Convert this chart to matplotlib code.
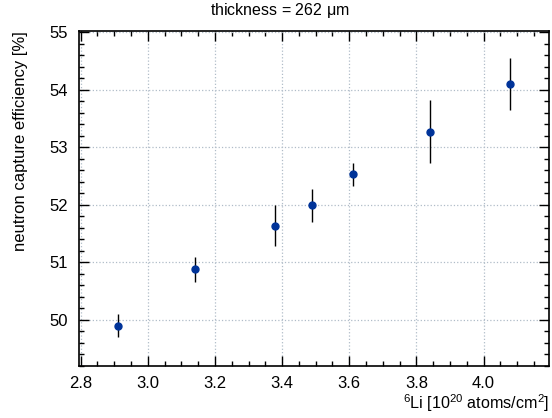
import matplotlib
matplotlib.use("Agg")
import matplotlib.pyplot as plt
from matplotlib.ticker import MultipleLocator

plt.rcParams["font.family"] = ["Liberation Sans", "DejaVu Sans"]
plt.rcParams["mathtext.fontset"] = "custom"
plt.rcParams["mathtext.rm"] = "Liberation Sans"
plt.rcParams["mathtext.it"] = "Liberation Sans"

# data
li6 = [2.91, 3.14, 3.38, 3.49, 3.61, 3.84, 4.08]
efficiency = [49.90, 50.88, 51.64, 51.99, 52.53, 53.27, 54.10]
eff_err = [0.20, 0.22, 0.35, 0.28, 0.20, 0.55, 0.45]

fig = plt.figure(figsize=(5.52, 4.18), dpi=100)
ax = fig.add_axes([79 / 552, 52 / 418, (549 - 79) / 552, (366 - 31) / 418])

ax.errorbar(li6, efficiency, yerr=eff_err, fmt="o", color="#003399",
            ecolor="black", elinewidth=1.0, markersize=5, capsize=0)

ax.set_xlim(2.795, 4.195)
ax.set_ylim(49.2, 55.02)
ax.xaxis.set_major_locator(MultipleLocator(0.2))
ax.xaxis.set_minor_locator(MultipleLocator(0.05))
ax.yaxis.set_major_locator(MultipleLocator(1))
ax.yaxis.set_minor_locator(MultipleLocator(0.2))
ax.tick_params(which="both", direction="in", top=True, right=True, labelsize=12)
ax.tick_params(axis="y", pad=8)
ax.tick_params(axis="x", pad=7)
ax.tick_params(which="major", length=7, width=1)
ax.tick_params(which="minor", length=3.5, width=1)
for s in ax.spines.values():
    s.set_linewidth(1.2)
ax.grid(True, which="major", linestyle=":", color="#b0bcc8", linewidth=0.9)

fig.suptitle("thickness = 262 $\\mu$m", fontsize=11.5, x=0.507, y=0.997)
ax.set_ylabel("neutron capture efficiency [%]", fontsize=12, loc="top", labelpad=15)
ax.set_xlabel("$^{6}$Li [10$^{20}$ atoms/cm$^{2}$]", fontsize=11.6, loc="right", labelpad=1)

fig.savefig("out.png", dpi=100)
